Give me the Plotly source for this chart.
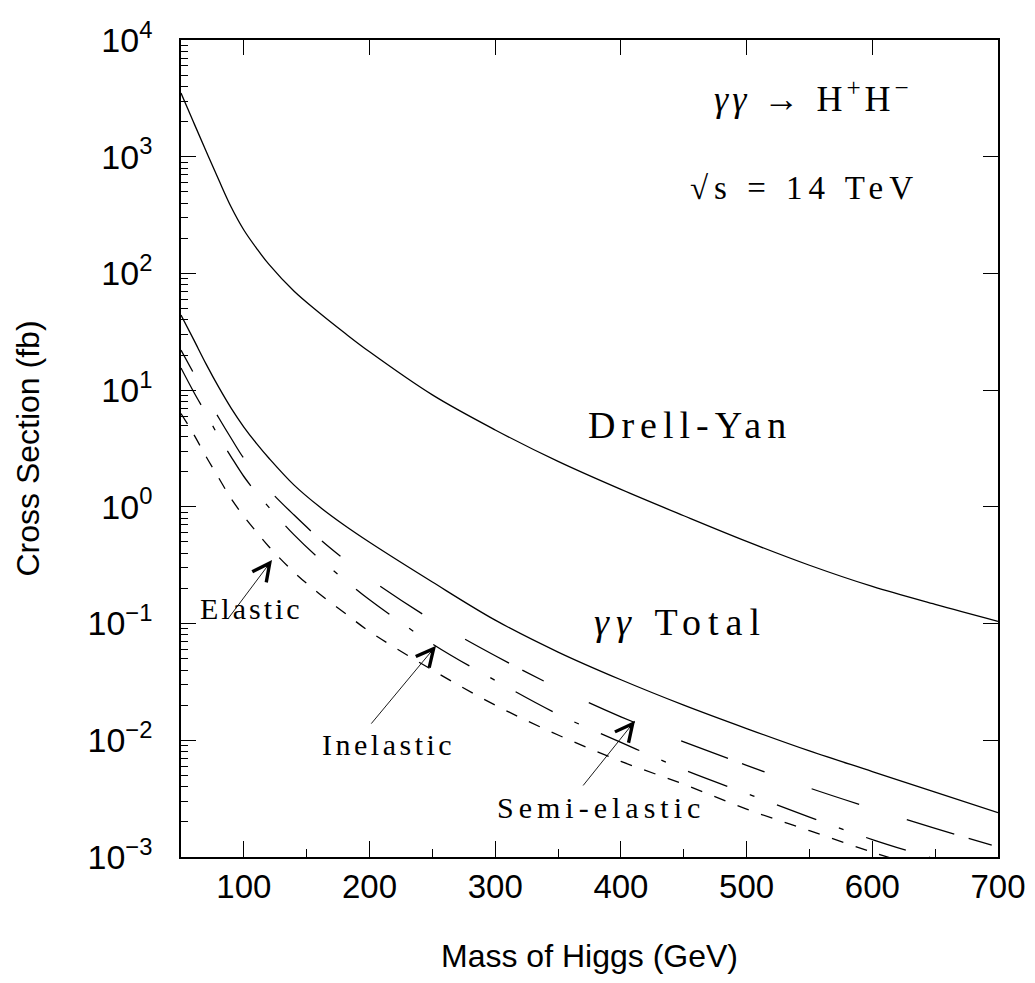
import plotly.graph_objects as go

# ---------------- data ----------------
mass = [50, 60, 70, 80, 90, 100, 110, 120, 140, 160, 180, 200, 250, 300, 350,
        400, 450, 500, 550, 600, 650, 700]

drell_yan = [3508, 1972, 1114, 634, 369, 235.5, 164.8, 119.4, 70.3, 46.0, 31.0,
             21.3, 9.10, 4.56, 2.45, 1.41, 0.839, 0.506, 0.316, 0.208, 0.146,
             0.1045]

gg_total = [44.0, 27.2, 16.7, 10.6, 6.98, 4.83, 3.50, 2.61, 1.535, 1.005,
            0.695, 0.497, 0.227, 0.107, 0.057, 0.033, 0.020, 0.0126, 0.0081,
            0.0054, 0.0036, 0.0024]

semi_elastic = [22, 14, 8.9, 5.8, 3.85, 2.6, 1.92, 1.4, 0.85, 0.535, 0.355,
                0.242, 0.107, 0.053, 0.028, 0.0159, 0.0097, 0.0061, 0.0039,
                0.0026, 0.00176, 0.00122]

inelastic_mass = mass[:-1]
inelastic = [15.5, 9.7, 6.27, 4.0, 2.67, 1.82, 1.32, 0.99, 0.575, 0.36, 0.238,
             0.16, 0.067, 0.0326, 0.0167, 0.0096, 0.0056, 0.0035, 0.0022,
             0.00141, 0.00096]

elastic_mass = mass[:-1]
elastic = [6.3, 4.2, 2.69, 1.77, 1.17, 0.83, 0.61, 0.455, 0.275, 0.18, 0.124,
           0.0855, 0.040, 0.020, 0.0111, 0.0066, 0.0042, 0.00257, 0.00168,
           0.0011, 0.00075]

x_ticks = [100, 200, 300, 400, 500, 600, 700]
y_ticks = [1e-3, 1e-2, 1e-1, 1e0, 1e1, 1e2, 1e3, 1e4]
y_ticktext = ["10<sup>−3</sup>", "10<sup>−2</sup>", "10<sup>−1</sup>",
              "10<sup>0</sup>", "10<sup>1</sup>", "10<sup>2</sup>",
              "10<sup>3</sup>", "10<sup>4</sup>"]
y_minor_ticks = [d * 10.0 ** e for e in range(-3, 4) for d in range(2, 10)]

# ---------------- figure ----------------
fig = go.Figure()

LW = 1.3
def curve(x, y, dash):
    fig.add_trace(go.Scatter(x=x, y=y, mode="lines",
                             line=dict(color="black", width=LW, dash=dash,
                                       shape="spline", smoothing=1.0),
                             hoverinfo="skip", showlegend=False))

curve(mass, drell_yan, "solid")
curve(mass, gg_total, "solid")
curve(mass, semi_elastic, "24px,50px,50px,50px,50px,15px")
curve(inelastic_mass, inelastic, "42px,24px,5px,24px")
curve(elastic_mass, elastic, "12px,13px")

# invisible trace to activate the mirrored top/right tick axes
fig.add_trace(go.Scatter(x=mass, y=drell_yan, xaxis="x2", yaxis="y2",
                         mode="lines", line=dict(width=0), opacity=0,
                         hoverinfo="skip", showlegend=False))

SANS = "Liberation Sans, Arial, sans-serif"
SERIF = "Liberation Serif, Times New Roman, serif"

# the page body adds an 8px offset, so the figure is 8px smaller than the window
fig.update_layout(
    width=1027, height=975,
    margin=dict(l=173, r=37, t=32, b=126),
    plot_bgcolor="white", paper_bgcolor="white",
    showlegend=False,
    font=dict(family=SANS, size=32, color="black"),
    xaxis=dict(range=[50, 700], tickmode="array", tickvals=x_ticks,
               ticks="inside", ticklen=16, tickwidth=1.2, tickcolor="black",
               showline=True, linecolor="black", linewidth=1.5, mirror=True,
               showgrid=False, zeroline=False, ticklabelstandoff=0,
               automargin=False,
               tickfont=dict(family=SANS, size=33, color="black"),
               minor=dict(ticks="inside", ticklen=8, tickwidth=1.2,
                          tickcolor="black", dtick=50, tick0=0,
                          showgrid=False),
               title=dict(text="Mass of Higgs (GeV)", standoff=40,
                          font=dict(family=SANS, size=32, color="black"))),
    yaxis=dict(type="log", range=[-3, 4], tickmode="array", tickvals=y_ticks,
               ticktext=y_ticktext,
               ticks="inside", ticklen=15, tickwidth=1.2, tickcolor="black",
               showline=True, linecolor="black", linewidth=1.5, mirror=True,
               showgrid=False, zeroline=False, ticklabelstandoff=20,
               automargin=False,
               tickfont=dict(family=SANS, size=34, color="black"),
               minor=dict(ticks="inside", ticklen=7, tickwidth=1.2,
                          tickcolor="black", tickmode="array",
                          tickvals=y_minor_ticks, showgrid=False),
               title=dict(text="Cross Section (fb)", standoff=38,
                          font=dict(family=SANS, size=32, color="black"))),
    xaxis2=dict(range=[50, 700], overlaying="x", side="top", anchor="y",
                tickmode="array", tickvals=x_ticks, ticks="inside",
                ticklen=15, tickwidth=1.2, tickcolor="black",
                showticklabels=False, showgrid=False, zeroline=False,
                showline=False, automargin=False),
    yaxis2=dict(type="log", range=[-3, 4], overlaying="y", side="right",
                anchor="x", tickmode="array", tickvals=y_ticks,
                ticks="inside", ticklen=15, tickwidth=1.2, tickcolor="black",
                showticklabels=False, showgrid=False, zeroline=False,
                showline=False, automargin=False),
)

def label(text, x, ylog, size, spacing):
    fig.add_annotation(x=x, y=ylog, xref="x", yref="y", showarrow=False,
                       text=f'<span style="letter-spacing:{spacing}px">{text}</span>',
                       font=dict(family=SERIF, size=size, color="black"),
                       xanchor="center", yanchor="middle")

def arrow(tip_x, tip_ylog, tail_x, tail_ylog):
    fig.add_annotation(x=tip_x, y=tip_ylog, ax=tail_x, ay=tail_ylog,
                       xref="x", yref="y", axref="x", ayref="y", text="",
                       showarrow=True, arrowhead=5, arrowsize=3.8,
                       arrowwidth=0.9, arrowcolor="black")

label("<i>γγ</i> → H<sup>+</sup>H<sup>−</sup>", 553, 3.52, 36, 4)
label("√s = 14 TeV", 546, 2.73, 33, 6)
label("Drell-Yan", 455, 0.70, 38, 6)
label("<i>γγ</i> Total", 447, -0.99, 38, 7)
label("Elastic", 106, -0.87, 30, 3)
label("Inelastic", 215, -2.04, 30, 3.5)
label("Semi-elastic", 384, -2.58, 30, 5)

arrow(122.4, -0.456, 86.6, -0.97)
arrow(252.9, -1.19, 200.4, -1.87)
arrow(411.2, -1.833, 369, -2.40)

fig.write_html("out.html")
